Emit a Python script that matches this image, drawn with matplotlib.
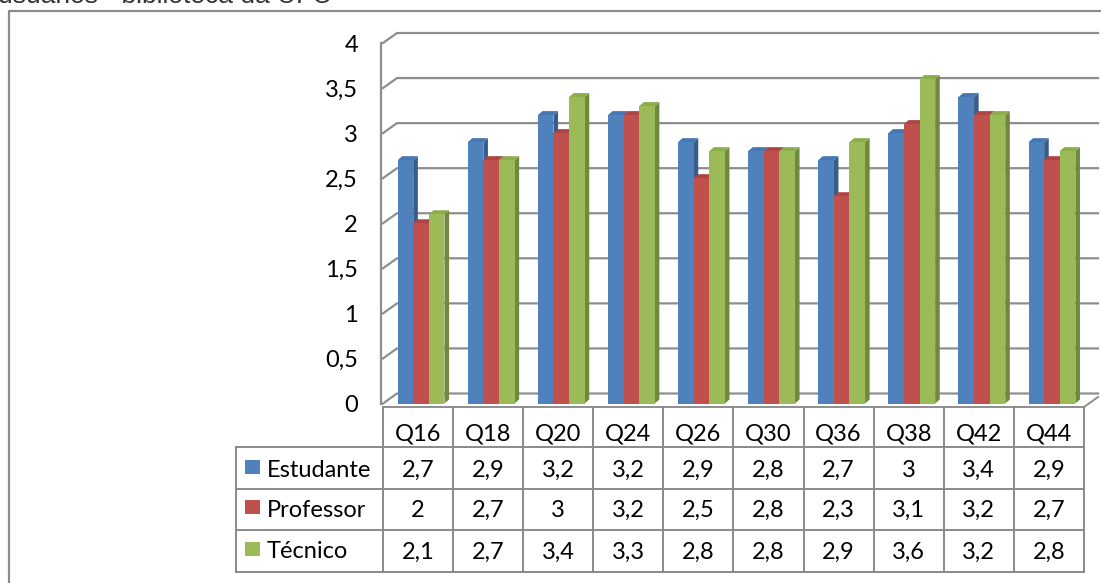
import numpy as np
import matplotlib
matplotlib.use("Agg")
import matplotlib.pyplot as plt
from matplotlib.patches import Polygon, Rectangle
from matplotlib.lines import Line2D
from matplotlib.transforms import blended_transform_factory

# ---- data ----
categories = ["Q16", "Q18", "Q20", "Q24", "Q26", "Q30", "Q36", "Q38", "Q42", "Q44"]
series_names = ["Estudante", "Professor", "Técnico"]
estudante = [2.7, 2.9, 3.2, 3.2, 2.9, 2.8, 2.7, 3.0, 3.4, 2.9]
professor = [2.0, 2.7, 3.0, 3.2, 2.5, 2.8, 2.3, 3.1, 3.2, 2.7]
tecnico = [2.1, 2.7, 3.4, 3.3, 2.8, 2.8, 2.9, 3.6, 3.2, 2.8]
y_ticks = [0, 0.5, 1, 1.5, 2, 2.5, 3, 3.5, 4]
title_text = "usuários - biblioteca da UFC"

series = [estudante, professor, tecnico]
front_cols = ["#4F81BD", "#C0504D", "#9BBB59"]
top_cols = ["#4677B3", "#AE4542", "#8DAD4D"]
side_cols = ["#385D8A", "#8C3836", "#71893F"]
grid_col = "#8E8E8E"
line_col = "#8A8A8A"
FS = 17

W, H = 1101, 583
fig = plt.figure(figsize=(W / 100, H / 100), dpi=100)
fig.patch.set_facecolor("white")


def fy(py):
    """pixel row (from top) -> figure fraction"""
    return 1 - py / H


# plot area: x from 383 to 1084 px, value 0 at 403.5 px, value 4 at 43 px
ax = fig.add_axes([383 / W, fy(403.5), 701 / W, 360.5 / H])
ax.set_xlim(-0.5, len(categories) - 0.5)
ax.set_ylim(0, 4)
ax.set_facecolor("none")
for s in ax.spines.values():
    s.set_visible(False)
ax.set_xticks([])
ax.set_yticks(y_ticks)
ax.set_yticklabels([("%g" % v).replace(".", ",") for v in y_ticks],
                   fontfamily="Lato", fontsize=FS)
ax.tick_params(axis="y", length=0, pad=18)

# depth of the back wall, in data units
px_x = 1 / 70.1
px_y = 4 / 360.5
ddx = 14 * px_x
ddy = 10 * px_y
x0, x1 = -0.5, len(categories) - 0.5

# back-wall gridlines with their side-wall diagonals
for v in y_ticks:
    ax.add_line(Line2D([x0, x0 + ddx, x1 + ddx], [v, v + ddy, v + ddy],
                       color=grid_col, lw=1.6, clip_on=False, zorder=1))
# side-wall front edge
ax.add_line(Line2D([x0 - 2 * px_x, x0 - 2 * px_x], [0, 4], color=grid_col,
                   lw=1.6, clip_on=False, zorder=1))
# floor front edge and right diagonal
fl = -3.5 * px_y
ax.add_line(Line2D([x0, x1, x1 + ddx], [fl, fl, fl + ddy], color=grid_col,
                   lw=1.4, clip_on=False, zorder=1))

# 3D-looking columns
bw = 15.6 * px_x
bdx = 4.6 * px_x
bdy = 4.0 * px_y
shift = 3 * px_x
for i in range(len(categories)):
    for k, vals in enumerate(series):
        v = vals[i]
        xc = i + shift + (k - 1) * bw
        xl, xr = xc - bw / 2, xc + bw / 2
        ax.add_patch(Polygon([(xr, 0), (xr + bdx, bdy), (xr + bdx, v + bdy), (xr, v)],
                             closed=True, fc=side_cols[k], ec="none", zorder=3 + k))
        ax.add_patch(Polygon([(xl, v), (xl + bdx, v + bdy), (xr + bdx, v + bdy), (xr, v)],
                             closed=True, fc=top_cols[k], ec="none", zorder=3 + k))
    # front faces
    xs = [i + shift + (k - 1) * bw for k in range(3)]
    for k, vals in enumerate(series):
        ax.bar(xs[k], vals[i], width=bw, color=front_cols[k], edgecolor="none",
               zorder=3 + k, linewidth=0)

# ---- data table ----
tr = blended_transform_factory(ax.transData, fig.transFigure)
lab_left = x0 - (383 - 236) * px_x
row_y = [407, 447, 488.5, 530, 572]
lw_t = 1.4

# vertical column lines
for j in range(len(categories) + 1):
    xx = x0 + j
    fig.add_artist(Line2D([xx, xx], [fy(row_y[0]), fy(row_y[-1])], color=line_col,
                          lw=lw_t, transform=tr))
# horizontal row lines
for r in range(1, len(row_y)):
    fig.add_artist(Line2D([lab_left, x1], [fy(row_y[r]), fy(row_y[r])], color=line_col,
                          lw=lw_t, transform=tr))
fig.add_artist(Line2D([lab_left, lab_left], [fy(row_y[1]), fy(row_y[-1])],
                      color=line_col, lw=lw_t, transform=tr))

tfont = dict(fontfamily="Lato", fontsize=FS, color="black")
for j, c in enumerate(categories):
    fig.text(j, fy(440), c, transform=tr, ha="center", va="baseline", **tfont)

baselines = [477, 517, 558.5]
for k, (name, vals) in enumerate(zip(series_names, series)):
    b = baselines[k]
    for j, v in enumerate(vals):
        fig.text(j, fy(b), ("%g" % v).replace(".", ","), transform=tr,
                 ha="center", va="baseline", **tfont)
    fig.text(267 / W, fy(b), name, ha="left", va="baseline", **tfont)
    fig.add_artist(Rectangle((245 / W, fy(b - 3)), 15 / W, 14 / H, fc=front_cols[k],
                             ec="none", transform=fig.transFigure))

# outer chart frame
fig.add_artist(Line2D([8.5 / W, 8.5 / W, 1.0], [0.0, fy(10.5), fy(10.5)],
                      color="#8C8C8C", lw=1.6, transform=fig.transFigure))

# caption above the chart
fig.text(-2 / W, fy(3), title_text, fontfamily="Liberation Sans", fontsize=19,
         color="#333333", ha="left", va="baseline")

fig.savefig("out.png", dpi=100, facecolor="white")
